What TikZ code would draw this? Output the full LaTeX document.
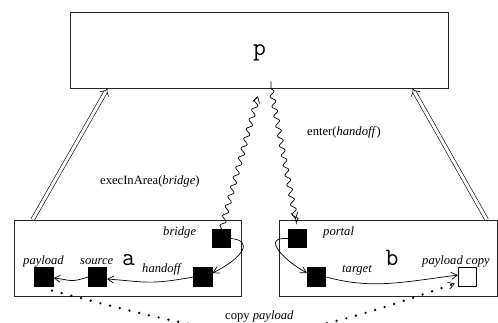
\documentclass[tikz,border=0pt]{standalone}
\usepackage{fontspec}
\setmainfont{Liberation Serif}
\usetikzlibrary{arrows.meta,decorations.pathmorphing}
\begin{document}
\begin{tikzpicture}[x=1pt,y=-1pt,
  frame/.style={draw=black!85,line width=0.8pt,fill=white,inner sep=0pt},
  blob/.style={draw=black,line width=0.6pt,fill=black,minimum size=18.5pt,inner sep=0pt},
  hollow/.style={draw=black,line width=0.6pt,fill=white,minimum size=18.5pt,inner sep=0pt},
  lbl/.style={inner sep=0pt,anchor=base west,font=\fontsize{12.6}{14}\selectfont\itshape},
  txt/.style={inner sep=0pt,anchor=base west,font=\fontsize{12.6}{14}\selectfont},
  big/.style={inner sep=0pt,anchor=base,font=\fontsize{25}{27}\selectfont\ttfamily},
  tip/.style={-{Straight Barb[length=6pt,width=7pt,line width=0.7pt]}},
  flow/.style={tip,line width=0.7pt},
  dbl/.style={double,double distance=3pt,line width=0.6pt,-{Implies[length=6pt]}},
  wave/.style={tip,line width=0.7pt,decorate,
    decoration={snake,amplitude=2.5pt,segment length=10pt,post length=5pt}},
  dots/.style={line width=2.6pt,line cap=round,dash pattern=on 0pt off 10pt,
    -{Straight Barb[length=6pt,width=7pt,line width=0.7pt]}}]
\useasboundingbox (0,0) rectangle (498,322);

% areas
\node[frame,minimum width=378pt,minimum height=76pt] (boxp) at (259,50) {};
\node[frame,minimum width=227pt,minimum height=76pt] (boxa) at (127.5,258) {};
\node[frame,minimum width=218.5pt,minimum height=76pt] (boxb) at (388.25,258) {};

\node[big] (np) at (259.5,55) {p};
\node[big] (na) at (128.5,265) {a};
\node[big] (nb) at (392,265) {b};

% objects inside area a
\node[blob] (payload) at (44,277) {};
\node[blob] (source) at (97.5,277) {};
\node[blob] (handoff) at (203,277) {};
\node[blob] (bridge) at (221.5,238.5) {};
% objects inside area b
\node[blob] (portal) at (297.5,238.5) {};
\node[blob] (target) at (316.5,277) {};
\node[hollow] (copy) at (467.5,277) {};

% object labels
\node[lbl] (lbridge) at (163,235) {bridge};
\node[lbl] (lpayload) at (23,264) {payload};
\node[lbl] (lsource) at (80,264) {source};
\node[lbl] (lhandoff) at (142,272) {handoff};
\node[lbl] (lportal) at (323,235) {portal};
\node[lbl] (ltarget) at (342,272) {target};
\node[lbl] (lcopy) at (422,264) {payload copy};

% action labels
\node[txt] (lexec) at (100,184) {execInArea(\textit{bridge})};
\node[txt] (lenter) at (307,135) {enter(\textit{handoff})};
\node[txt] (lcp) at (225,319) {copy \textit{payload}};

% area nesting
\draw[dbl] ([xshift=19pt]boxa.north west) -- ([xshift=38pt]boxp.south west);
\draw[dbl] ([xshift=208pt]boxb.north west) -- ([xshift=-36pt]boxp.south east);

% migrations
\draw[wave,shorten >=8pt] (bridge.north) -- ([xshift=1pt]boxp.south);
\draw[wave,shorten >=10pt,shorten <=7pt] ([xshift=12pt]boxp.south) -- (portal.north);

% references
\draw[flow] (bridge.east) .. controls +(22,2) and +(32,-16) .. ([yshift=4pt]handoff.east);
\draw[flow] (handoff.west) .. controls +(-45,8) and +(40,3) .. ([yshift=-2pt]source.east);
\draw[flow] (source.west) .. controls +(-18,6) and +(18,2) .. ([yshift=-1pt]payload.east);
\draw[flow] (portal.west) .. controls +(-28,-2) and +(-22,-12) .. ([yshift=4pt]target.west);
\draw[flow] (target.east) .. controls +(45,12) and +(-60,8) .. ([yshift=2pt]copy.west);

% copy
\draw[dots] ([xshift=8pt,yshift=-4pt]payload.south) .. controls (262,346) and (272,346) .. ([xshift=-3pt,yshift=3pt]copy.south west);
\end{tikzpicture}
\end{document}
